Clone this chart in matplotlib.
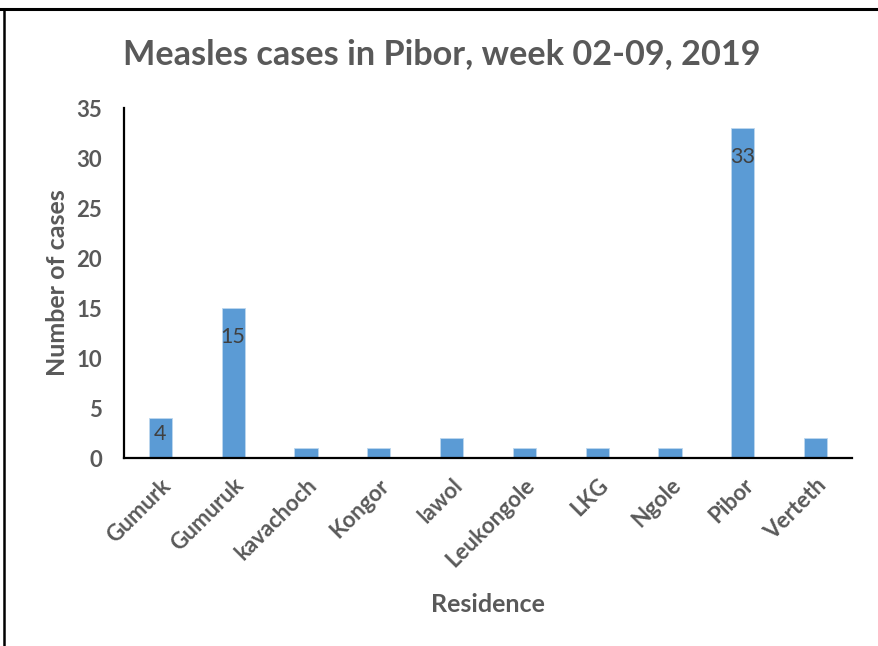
import matplotlib
matplotlib.use("Agg")
import matplotlib.pyplot as plt
from matplotlib.lines import Line2D

# Measles cases per residence, week 02-09, 2019
residences = ["Gumurk", "Gumuruk", "kavachoch", "Kongor", "lawol",
              "Leukongole", "LKG", "Ngole", "Pibor", "Verteth"]
cases = [4, 15, 1, 1, 2, 1, 1, 1, 33, 2]
labelled = [True, True, False, False, False, False, False, False, True, False]
y_ticks = [0, 5, 10, 15, 20, 25, 30, 35]

BAR_COLOR = "#5B9BD5"
TEXT_GRAY = "#595959"
FONT = "Lato"

fig = plt.figure(figsize=(8.79, 6.46), dpi=100)
ax = fig.add_axes([0.1411, 0.291, 0.8282, 0.5418])

x = list(range(len(residences)))
bars = ax.bar(x, cases, width=0.32, color=BAR_COLOR,
              edgecolor="#BDD7EE", linewidth=0.6)

ax.set_xlim(-0.5, len(residences) - 0.5)
ax.set_ylim(0, 35)
ax.set_yticks(y_ticks)
ax.set_yticklabels([str(t) for t in y_ticks], fontfamily=FONT,
                   fontweight="bold", fontsize=16, color=TEXT_GRAY)
ax.set_xticks(x)
ax.set_xticklabels(residences, rotation=45, ha="right",
                   rotation_mode="anchor", fontfamily=FONT,
                   fontweight="bold", fontsize=16, color=TEXT_GRAY)
ax.tick_params(axis="both", length=0)
ax.tick_params(axis="y", pad=16)
ax.tick_params(axis="x", pad=12)

for side in ("top", "right"):
    ax.spines[side].set_visible(False)
for side in ("left", "bottom"):
    ax.spines[side].set_color("#000000")
    ax.spines[side].set_linewidth(1.6)

# value labels inside the top of the bars
px_per_unit = ax.get_window_extent().height / 35
for xi, v, show in zip(x, cases, labelled):
    if not show:
        continue
    drop = min(29, v * px_per_unit * 0.4) * 72 / fig.dpi
    ax.annotate(str(v), xy=(xi, v), xytext=(0, -drop),
                textcoords="offset points", ha="center", va="center",
                fontfamily=FONT, fontsize=15.5, color="#404040")

ax.set_ylabel("Number of cases", fontfamily=FONT, fontweight="bold",
              fontsize=18, color=TEXT_GRAY, labelpad=5)
ax.set_xlabel("Residence", fontfamily=FONT, fontweight="bold",
              fontsize=18, color=TEXT_GRAY, labelpad=16)

fig.text(0.503, 0.916, "Measles cases in Pibor, week 02-09, 2019",
         ha="center", va="center", fontfamily=FONT, fontweight="bold",
         fontsize=24.7, color=TEXT_GRAY)

# outer frame along the top and left edges
fig.add_artist(Line2D([0, 1], [1 - 9 / 646, 1 - 9 / 646],
                      transform=fig.transFigure, color="black", linewidth=2.2))
fig.add_artist(Line2D([4 / 879, 4 / 879], [0, 1 - 9 / 646],
                      transform=fig.transFigure, color="black", linewidth=1.8))

fig.savefig("out.png", dpi=100, facecolor="white")
